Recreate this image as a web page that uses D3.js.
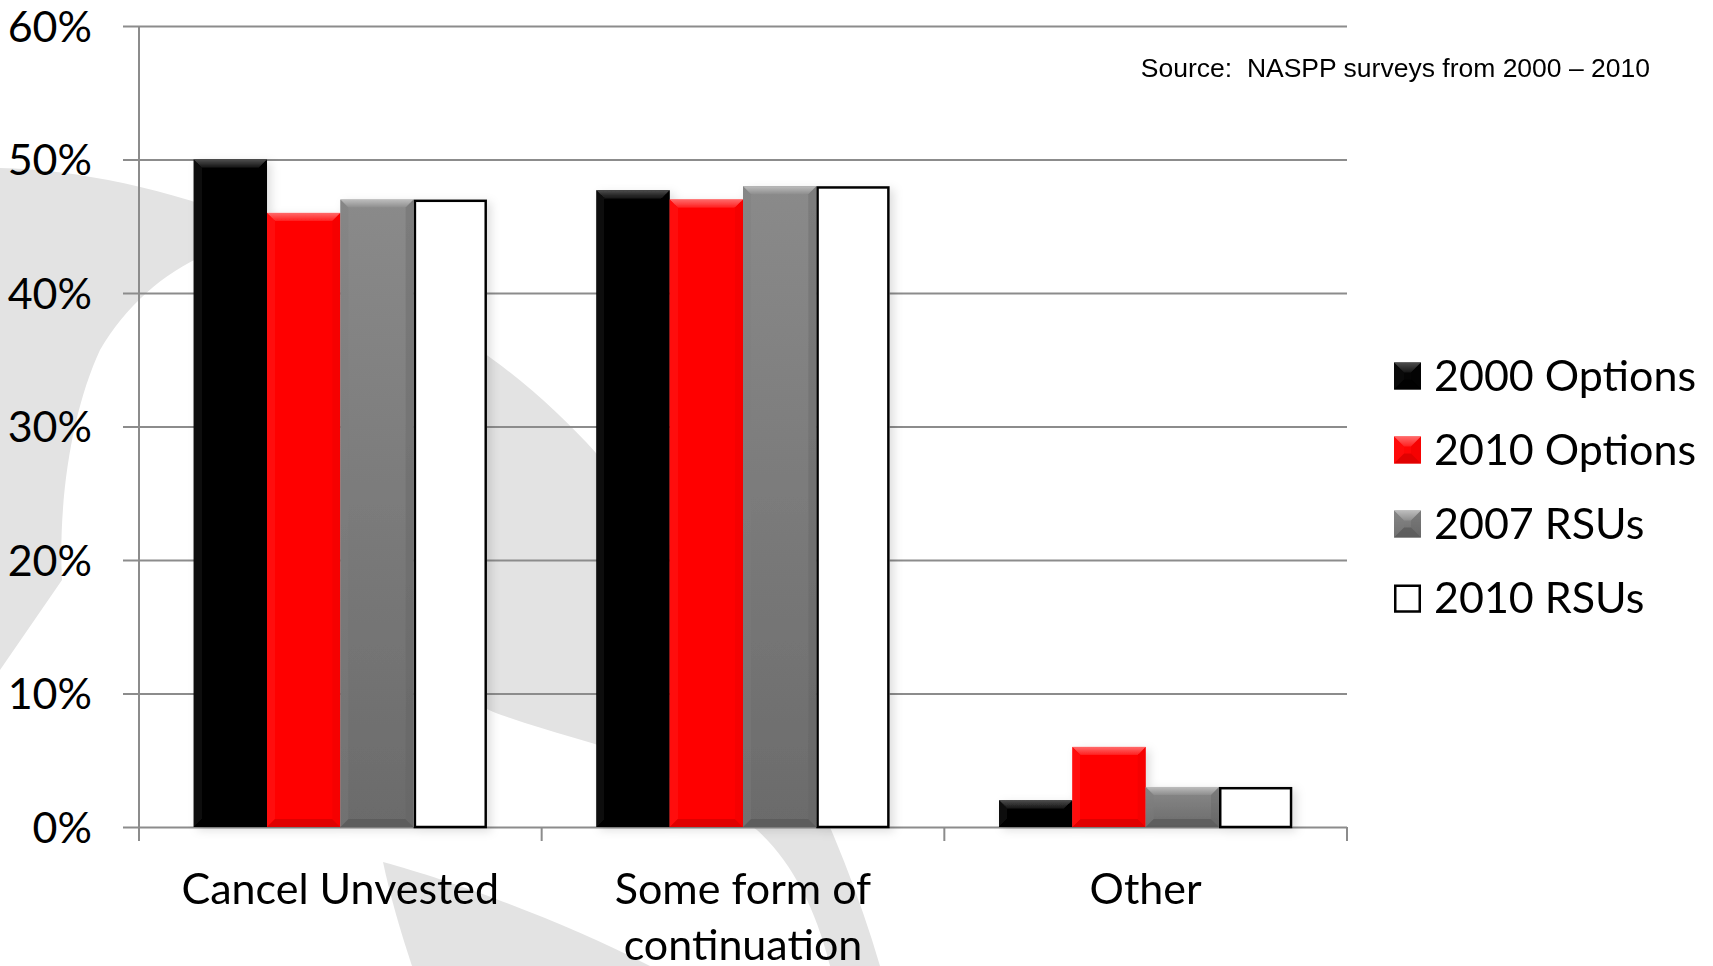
<!DOCTYPE html>
<html>
<head>
<meta charset="utf-8">
<script src="https://cdn.jsdelivr.net/npm/d3@7"></script>
<style>
  html, body { margin: 0; padding: 0; background: #ffffff; }
  svg { display: block; }
</style>
</head>
<body>
<svg id="chart" width="1713" height="966"></svg>
<script>
// ---- data ----
const categories = ["Cancel Unvested", "Some form of\ncontinuation", "Other"];
const seriesNames = ["2000 Options", "2010 Options", "2007 RSUs", "2010 RSUs"];
const options2000 = [0.50, 0.477, 0.02];
const options2010 = [0.46, 0.47, 0.06];
const rsus2007 = [0.47, 0.48, 0.03];
const rsus2010 = [0.47, 0.48, 0.03];
const yTicks = [0, 0.1, 0.2, 0.3, 0.4, 0.5, 0.6];
const sourceNote = "Source:  NASPP surveys from 2000 \u2013 2010";

const seriesValues = [options2000, options2010, rsus2007, rsus2010];

// ---- layout ----
const plot = { left: 139, right: 1347, top: 26, bottom: 827 };
const FONT = "Lato, 'Open Sans', sans-serif";
const FONT_SIZE = 43;

const svg = d3.select("#chart");
const defs = svg.append("defs");

// soft shadow under the bars
const shadow = defs.append("filter").attr("id", "barShadow")
  .attr("x", "-20%").attr("y", "-10%").attr("width", "150%").attr("height", "130%");
shadow.append("feDropShadow").attr("dx", 4).attr("dy", 3)
  .attr("stdDeviation", 5).attr("flood-color", "#000").attr("flood-opacity", 0.13);

function vGrad(id, stops) {
  const g = defs.append("linearGradient").attr("id", id)
    .attr("x1", 0).attr("y1", 0).attr("x2", 0).attr("y2", 1);
  stops.forEach(([o, c]) => g.append("stop").attr("offset", o).attr("stop-color", c));
  return `url(#${id})`;
}

// per-series look: body fill, bevel shades (top / bottom / left / right), outline
const styles = {
  "2000 Options": {
    fill: "#050505",
    top: vGrad("blkTop", [[0, "#4d4d4d"], [1, "#151515"]]),
    bottom: "#000000", left: "#0d0d0d", right: "#020202",
    sideOpacity: 0.6,
    stroke: "none"
  },
  "2010 Options": {
    fill: "#ff0505",
    top: vGrad("redTop", [[0, "#ff6a6a"], [1, "#ff2020"]]),
    bottom: "#d80000", left: "#ff0d0d", right: "#f00000",
    sideOpacity: 0.6,
    stroke: "none"
  },
  "2007 RSUs": {
    fill: vGrad("grayBody", [[0, "#8a8a8a"], [1, "#6b6b6b"]]),
    top: vGrad("grayTop", [[0, "#bdbdbd"], [1, "#8e8e8e"]]),
    bottom: "#5a5a5a", left: "#7e7e7e", right: "#606060",
    sideOpacity: 0.35,
    stroke: "none"
  },
  "2010 RSUs": {
    fill: "#ffffff",
    top: null, bottom: null, left: null, right: null,
    stroke: "#000000"
  }
};

// ---- background watermark swirl ----
const wm = svg.append("g").attr("fill", "#e3e3e3");
wm.append("path").attr("d",
  "M0,168 C90,170 190,194 292,238 C210,236 140,282 100,350 C72,410 58,500 62,580 L0,670 Z");
wm.append("path").attr("d",
  "M380,300 C450,318 540,390 596,453 C700,570 820,760 880,966 L830,966 " +
  "C815,905 790,860 757,830 C700,790 640,762 595,744 C540,728 500,716 485,708 " +
  "C420,640 385,450 380,300 Z");
wm.append("path").attr("d",
  "M383,862 C450,880 560,920 650,966 L412,966 C400,930 390,895 383,862 Z");

// ---- scales ----
const x0 = d3.scaleBand().domain(categories).range([plot.left, plot.right]).padding(0);
const x1 = d3.scaleBand().domain(seriesNames).range([0, x0.bandwidth()])
  .paddingInner(0).paddingOuter(0.746);
const y = d3.scaleLinear().domain([0, 0.6]).range([plot.bottom, plot.top]);

// ---- gridlines + y labels ----
const yAxisG = svg.append("g")
  .attr("transform", `translate(${plot.left - 16},0)`)
  .call(d3.axisLeft(y).tickValues(yTicks)
    .tickSize(-(plot.right - plot.left + 16))
    .tickPadding(31)
    .tickFormat(d3.format(".0%")));
yAxisG.select(".domain").remove();
yAxisG.selectAll(".tick line").attr("stroke", "#8c8c8c").attr("stroke-width", 2);
yAxisG.selectAll(".tick text")
  .attr("font-family", FONT).attr("font-size", FONT_SIZE).attr("fill", "#000")
  .attr("dy", "0.35em");

// vertical axis line
svg.append("line")
  .attr("x1", plot.left).attr("x2", plot.left)
  .attr("y1", y(0.6)).attr("y2", plot.bottom + 14)
  .attr("stroke", "#8c8c8c").attr("stroke-width", 2);

// category boundary ticks below the baseline
const bounds = categories.map(c => x0(c)).concat([x0(categories[categories.length - 1]) + x0.bandwidth()]);
svg.append("g").selectAll("line").data(bounds).join("line")
  .attr("x1", d => d).attr("x2", d => d)
  .attr("y1", plot.bottom).attr("y2", plot.bottom + 14)
  .attr("stroke", "#8c8c8c").attr("stroke-width", 2);

// ---- bars ----
const records = [];
categories.forEach((c, ci) => {
  seriesNames.forEach((s, si) => {
    records.push({ cat: c, series: s, value: seriesValues[si][ci] });
  });
});

function drawBevelBox(g, x, yTop, w, h, st, b) {
  g.append("rect").attr("x", x).attr("y", yTop).attr("width", w).attr("height", h)
    .attr("fill", st.fill);
  if (st.top) {
    const bb = Math.min(b, w / 2, h / 2);
    const xr = x + w, yb = yTop + h;
    g.append("path").attr("d",
      `M${x},${yTop} L${xr},${yTop} L${xr - bb},${yTop + bb} L${x + bb},${yTop + bb} Z`)
      .attr("fill", st.top);
    g.append("path").attr("d",
      `M${x},${yb} L${xr},${yb} L${xr - bb},${yb - bb} L${x + bb},${yb - bb} Z`)
      .attr("fill", st.bottom).attr("opacity", 0.8);
    g.append("path").attr("d",
      `M${x},${yTop} L${x + bb},${yTop + bb} L${x + bb},${yb - bb} L${x},${yb} Z`)
      .attr("fill", st.left).attr("opacity", st.sideOpacity);
    g.append("path").attr("d",
      `M${xr},${yTop} L${xr - bb},${yTop + bb} L${xr - bb},${yb - bb} L${xr},${yb} Z`)
      .attr("fill", st.right).attr("opacity", st.sideOpacity);
  }
  if (st.stroke !== "none") {
    g.append("rect").attr("x", x + 1.25).attr("y", yTop + 1.25)
      .attr("width", w - 2.5).attr("height", h - 1.25)
      .attr("fill", "none").attr("stroke", st.stroke).attr("stroke-width", 2.5);
  }
}

const barsG = svg.append("g").attr("filter", "url(#barShadow)");
records.forEach(r => {
  const st = styles[r.series];
  const bx = x0(r.cat) + x1(r.series);
  const by = y(r.value);
  const bh = y(0) - by;
  const g = barsG.append("g").attr("class", "bar");
  drawBevelBox(g, bx, by, x1.bandwidth(), bh, st, 8);
});

// ---- category labels ----
const labelG = svg.append("g")
  .attr("font-family", FONT).attr("font-size", FONT_SIZE).attr("fill", "#000")
  .attr("text-anchor", "middle");
categories.forEach(c => {
  const cx = x0(c) + x0.bandwidth() / 2;
  const t = labelG.append("text").attr("x", cx).attr("y", 904);
  c.split("\n").forEach((line, i) => {
    t.append("tspan").attr("x", cx).attr("dy", i === 0 ? 0 : 56).text(line);
  });
});

// ---- legend ----
const legendRowY = d3.scalePoint().domain(seriesNames).range([376, 598]);
const legend = svg.append("g");
seriesNames.forEach(s => {
  const cy = legendRowY(s);
  const st = styles[s];
  const size = 27;
  const g = legend.append("g");
  drawBevelBox(g, 1394, cy - size / 2, size, size, st, 10);
  legend.append("text")
    .attr("x", 1434).attr("y", cy).attr("dy", "0.36em")
    .attr("font-family", FONT).attr("font-size", FONT_SIZE).attr("fill", "#000")
    .text(s);
});

// ---- source note ----
svg.append("text")
  .attr("x", 1650).attr("y", 77)
  .attr("text-anchor", "end")
  .attr("xml:space", "preserve")
  .style("white-space", "pre")
  .attr("font-family", "'Liberation Sans', Arial, sans-serif")
  .attr("font-size", 26.5).attr("fill", "#000")
  .text(sourceNote);
</script>
</body>
</html>
